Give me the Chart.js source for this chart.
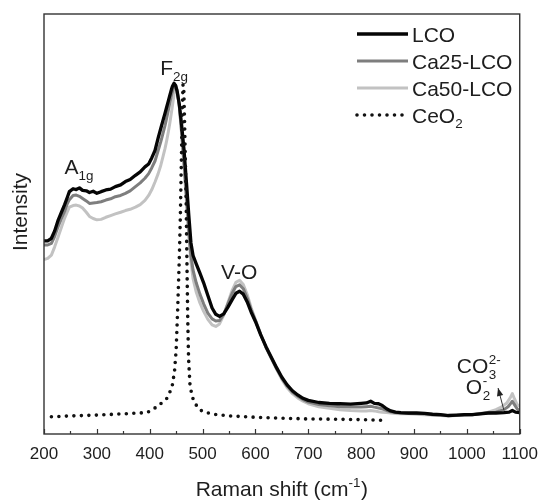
<!DOCTYPE html>
<html><head><meta charset="utf-8">
<script src="https://cdn.jsdelivr.net/npm/chart.js@4.4.0/dist/chart.umd.min.js"></script>
<style>html,body{margin:0;padding:0;background:#fff;}canvas{display:block;}</style>
</head><body>
<canvas id="c" width="548" height="500"></canvas>
<script>
// ---- data (Raman shift in cm-1, intensity in arbitrary units 0..100) ----
const lcoShift = [200,207,214,220,227,233,239,244,248,255,261,267,273,280,286,293,300,308,317,326,335,345,354,363,373,382,391,398,404,410,416,421,425,429,432,435,438,441,443,446,449,452,456,460,465,470,474,478,482,488,495,502,510,518,525,532,540,548,556,563,570,577,585,592,600,610,620,630,640,650,660,670,680,690,700,720,740,760,780,800,810,818,825,833,840,848,856,865,875,890,905,920,935,950,965,980,995,1010,1025,1040,1055,1070,1080,1086,1092,1100];
const lcoIntensity = [46.0,46.0,46.6,48.3,51.0,52.8,54.6,56.3,57.7,58.4,58.2,58.6,58.0,57.9,57.5,57.8,57.3,57.7,58.1,58.3,58.9,59.3,60.1,60.6,61.6,62.4,63.6,64.3,65.8,67.5,70.5,72.8,74.6,76.4,77.8,79.2,80.6,82.0,82.8,83.5,83.0,81.5,78.5,74.0,67.5,59.0,52.0,45.5,42.5,40.5,38.3,36.0,33.0,30.0,28.5,28.0,28.6,30.2,32.0,33.5,34.0,33.3,31.3,29.0,26.8,23.6,20.8,18.3,15.8,13.5,11.7,10.3,9.3,8.5,8.0,7.5,7.3,7.2,7.1,7.3,7.4,7.8,7.3,7.2,6.8,6.0,5.5,5.2,5.1,5.0,5.0,4.9,4.7,4.6,4.4,4.5,4.6,4.6,4.8,5.0,5.0,5.1,5.2,5.6,5.2,5.1];

const ca25Shift = [200,207,214,220,227,233,239,244,248,255,261,267,273,280,286,293,300,308,317,326,335,345,354,363,373,382,391,398,404,410,416,421,425,429,432,435,438,441,443,446,449,452,456,460,465,470,474,478,482,488,495,502,510,518,525,532,540,548,556,563,570,577,585,592,600,610,620,630,640,650,660,670,680,690,700,720,740,760,780,800,810,818,825,833,840,848,856,865,875,890,905,920,935,950,965,980,995,1010,1025,1040,1055,1070,1078,1083,1086,1090,1095,1100];
const ca25Intensity = [45.0,45.0,45.4,47.0,49.5,51.3,53.0,54.8,55.8,56.8,56.9,56.6,56.1,55.5,54.9,55.0,55.1,55.3,55.7,56.0,56.5,56.8,57.3,57.9,58.9,59.8,60.9,62.0,63.4,65.0,67.5,69.6,71.5,73.5,75.2,77.0,78.8,80.6,81.6,82.8,83.0,81.5,78.0,72.5,64.5,55.5,48.5,42.5,39.0,36.0,33.3,31.0,28.8,27.4,26.9,27.0,28.5,31.0,33.5,35.1,35.5,34.6,32.2,29.6,27.0,23.7,20.6,18.1,15.6,13.3,11.4,10.0,9.0,8.2,7.6,7.0,6.7,6.5,6.4,6.4,6.5,6.6,6.4,6.2,6.0,5.6,5.3,5.1,5.0,4.9,4.9,4.8,4.6,4.5,4.4,4.4,4.5,4.6,4.8,5.0,5.2,5.8,6.5,7.3,7.8,7.0,6.0,5.6];

const ca50Shift = [200,207,214,220,227,233,239,244,248,255,261,267,273,280,286,293,300,308,317,326,335,345,354,363,373,382,391,398,404,410,416,421,425,429,432,435,438,441,443,446,449,452,456,460,465,470,474,478,482,488,495,502,510,518,525,532,540,548,556,563,570,577,585,592,600,610,620,630,640,650,660,670,680,690,700,720,740,760,780,800,810,818,825,833,840,848,856,865,875,890,905,920,935,950,965,980,995,1010,1025,1040,1055,1065,1075,1082,1086,1090,1095,1100];
const ca50Intensity = [41.5,41.8,42.6,44.5,47.0,49.2,51.4,52.9,54.0,54.4,54.5,54.3,53.8,52.8,51.8,51.3,51.0,51.1,51.6,52.0,52.4,52.8,53.2,53.5,54.0,54.6,55.6,56.8,58.2,60.0,62.0,64.0,66.0,68.0,69.8,71.8,74.0,76.5,78.2,80.8,82.5,82.0,78.0,72.0,63.5,54.5,47.0,41.0,37.0,33.8,31.2,29.2,27.3,26.0,25.6,26.2,28.3,31.3,34.2,36.1,36.6,35.6,33.0,30.0,27.2,23.8,20.7,18.0,15.4,13.0,11.0,9.6,8.6,7.8,7.2,6.5,6.1,5.8,5.6,5.5,5.5,5.6,5.5,5.3,5.2,5.1,5.0,4.9,4.8,4.8,4.7,4.6,4.5,4.4,4.3,4.4,4.5,4.6,4.9,5.2,5.8,6.4,7.3,8.6,9.6,8.4,7.0,6.6];

const ceo2Shift = [214,250,300,350,395,414,432,442,447,450,453,456,458,460,461.5,463,464.5,466,469,470.5,472,473.5,476,480,486,495,501,520,551,614,695,760,810,850];
const ceo2Intensity = [4.1,4.3,4.5,4.8,5.1,6.5,8.4,11,15,20,30,42,52,66,76,83.2,82,74,55,40,27,18,12,9,7.2,5.8,5.3,4.7,4.3,3.9,3.6,3.5,3.4,3.2];

const xTickMin = 200, xTickMax = 1100, xMajorStep = 100, xMinorStep = 50;
const seriesLabels = ['LCO', 'Ca25-LCO', 'Ca50-LCO', 'CeO2'];

// ---- rendering ----
const FONT = '"Liberation Sans", Arial, Helvetica, sans-serif';
const TEXT = '#1e1e1e';
const FS = 21;
function pts(xs, ys) { return xs.map((x, i) => ({ x: x, y: ys[i] })); }

// rich text: parts = [[text, mode]], mode 0 normal, 1 sub, 2 sup, or {sub, sup} stacked
function drawRich(ctx, parts, x, y, size) {
  let cx = x;
  ctx.textBaseline = 'alphabetic';
  ctx.textAlign = 'left';
  parts.forEach(p => {
    if (Array.isArray(p)) {
      const mode = p[1];
      const fs = mode ? size * 0.64 : size;
      ctx.font = fs + 'px ' + FONT;
      const dy = mode === 1 ? size * 0.28 : mode === 2 ? -size * 0.42 : 0;
      ctx.fillText(p[0], cx, y + dy);
      cx += ctx.measureText(p[0]).width + (mode ? 0.5 : 0);
    } else {
      const fs = size * 0.64;
      ctx.font = fs + 'px ' + FONT;
      ctx.fillText(p.sub, cx + 0.5, y + size * 0.30);
      ctx.fillText(p.sup, cx + 0.5, y - size * 0.45);
      cx += Math.max(ctx.measureText(p.sub).width, ctx.measureText(p.sup).width) + 1;
    }
  });
  return cx;
}
function richWidth(ctx, parts, size) {
  let w = 0;
  parts.forEach(p => {
    if (Array.isArray(p)) {
      ctx.font = (p[1] ? size * 0.64 : size) + 'px ' + FONT;
      w += ctx.measureText(p[0]).width + (p[1] ? 0.5 : 0);
    } else {
      ctx.font = size * 0.64 + 'px ' + FONT;
      w += Math.max(ctx.measureText(p.sub).width, ctx.measureText(p.sup).width) + 1;
    }
  });
  return w;
}

const annotations = [
  { parts: [['A', 0], ['1g', 1]], x: 239, y: 61.9 },
  { parts: [['F', 0], ['2g', 1]], x: 420, y: 85.5 },
  { parts: [['V-O', 0]], x: 535, y: 36.9 },
  { parts: [['CO', 0], { sub: '3', sup: '2-' }], x: 981, y: 14.5 },
  { parts: [['O', 0], { sub: '2', sup: '-' }], x: 998, y: 9.5 }
];
const arrowFrom = { x: 1070, y: 5.7 }, arrowTo = { x: 1059, y: 10.95 };

const decor = {
  id: 'decor',
  afterDatasetsDraw(chart) {
    const ctx = chart.ctx, a = chart.chartArea, xs = chart.scales.x, ys = chart.scales.y;
    ctx.save();
    // frame
    ctx.strokeStyle = '#333';
    ctx.lineWidth = 1.4;
    ctx.strokeRect(a.left, a.top, a.right - a.left, a.bottom - a.top);
    // inward ticks on the bottom axis
    ctx.lineWidth = 1.2;
    xs.ticks.forEach(t => {
      const px = Math.round(xs.getPixelForValue(t.value)) + 0.5;
      const len = (t.value % xMajorStep === 0) ? 5 : 3;
      ctx.beginPath();
      ctx.moveTo(px, a.bottom);
      ctx.lineTo(px, a.bottom - len);
      ctx.stroke();
    });
    // annotations
    ctx.fillStyle = TEXT;
    annotations.forEach(an => drawRich(ctx, an.parts, xs.getPixelForValue(an.x), ys.getPixelForValue(an.y), FS));
    // arrow
    const x1 = xs.getPixelForValue(arrowFrom.x), y1 = ys.getPixelForValue(arrowFrom.y);
    const x2 = xs.getPixelForValue(arrowTo.x), y2 = ys.getPixelForValue(arrowTo.y);
    ctx.strokeStyle = '#333'; ctx.lineWidth = 1;
    ctx.beginPath(); ctx.moveTo(x1, y1); ctx.lineTo(x2, y2); ctx.stroke();
    const ang = Math.atan2(y2 - y1, x2 - x1), hl = 8, hw = 3.2;
    ctx.beginPath();
    ctx.moveTo(x2, y2);
    ctx.lineTo(x2 - hl * Math.cos(ang) + hw * Math.sin(ang), y2 - hl * Math.sin(ang) - hw * Math.cos(ang));
    ctx.lineTo(x2 - hl * Math.cos(ang) - hw * Math.sin(ang), y2 - hl * Math.sin(ang) + hw * Math.cos(ang));
    ctx.closePath(); ctx.fillStyle = '#222'; ctx.fill();

    // legend
    const rowsY = [34, 61, 88, 115];
    const lx0 = 357, lx1 = 408, tx = 412;
    chart.data.datasets.forEach((ds, i) => {
      const y = rowsY[i];
      ctx.strokeStyle = ds.borderColor;
      ctx.lineWidth = ds.borderWidth;
      ctx.lineCap = ds.borderDash && ds.borderDash.length ? 'round' : 'butt';
      ctx.setLineDash(ds.borderDash || []);
      ctx.beginPath(); ctx.moveTo(lx0, y); ctx.lineTo(lx1, y); ctx.stroke();
      ctx.setLineDash([]);
      ctx.fillStyle = TEXT;
      drawRich(ctx, ds.richLabel, tx, y + 7.5, FS);
    });

    // axis titles
    ctx.fillStyle = TEXT;
    const title = [['Raman shift (cm', 0], ['-1', 2], [')', 0]];
    const w = richWidth(ctx, title, FS);
    drawRich(ctx, title, (a.left + a.right) / 2 - w / 2, 496, FS);
    ctx.save();
    ctx.translate(27, 212);
    ctx.rotate(-Math.PI / 2);
    ctx.font = FS + 'px ' + FONT;
    ctx.textAlign = 'center';
    ctx.textBaseline = 'alphabetic';
    ctx.fillText('Intensity', 0, 0);
    ctx.restore();
    ctx.restore();
  }
};

new Chart(document.getElementById('c'), {
  type: 'line',
  data: {
    datasets: [
      { label: seriesLabels[0], richLabel: [['LCO', 0]], data: pts(lcoShift, lcoIntensity), borderColor: '#050505', borderWidth: 3.3, order: 1 },
      { label: seriesLabels[1], richLabel: [['Ca25-LCO', 0]], data: pts(ca25Shift, ca25Intensity), borderColor: '#7e7e7e', borderWidth: 3, order: 2 },
      { label: seriesLabels[2], richLabel: [['Ca50-LCO', 0]], data: pts(ca50Shift, ca50Intensity), borderColor: '#c2c2c2', borderWidth: 3, order: 3 },
      { label: seriesLabels[3], richLabel: [['CeO', 0], ['2', 1]], data: pts(ceo2Shift, ceo2Intensity), borderColor: '#111', borderWidth: 3.6, borderDash: [0, 7.5], borderCapStyle: 'round', order: 0 }
    ]
  },
  options: {
    responsive: false,
    animation: false,
    devicePixelRatio: 1,
    layout: { padding: { top: 14, right: 21, left: 0, bottom: 0 } },
    elements: { point: { radius: 0 }, line: { tension: 0, borderJoinStyle: 'round' } },
    plugins: { legend: { display: false }, tooltip: { enabled: false }, title: { display: false } },
    scales: {
      x: {
        type: 'linear', min: xTickMin, max: xTickMax,
        grid: { display: false, drawTicks: false },
        border: { display: false },
        ticks: {
          stepSize: xMinorStep, autoSkip: false, maxRotation: 0, padding: 10,
          color: TEXT, font: { family: FONT, size: 17 },
          callback: v => (v % xMajorStep === 0 ? String(v) : '')
        },
        afterFit: s => { s.height = 66; }
      },
      y: {
        min: 0, max: 100,
        grid: { display: false, drawTicks: false },
        border: { display: false },
        ticks: { display: false },
        afterFit: s => { s.width = 44; }
      }
    }
  },
  plugins: [decor]
});
</script>
</body></html>
